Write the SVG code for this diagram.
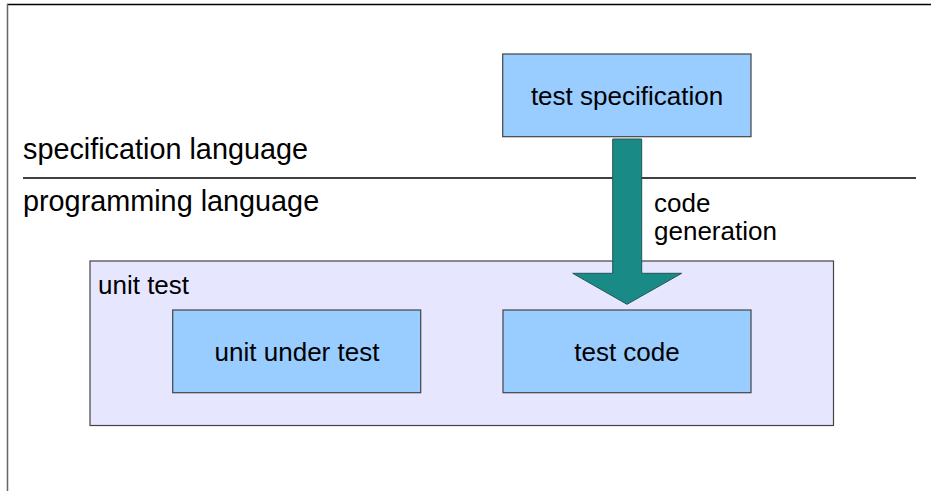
<svg xmlns="http://www.w3.org/2000/svg" width="931" height="491" viewBox="0 0 931 491">
<style>
text{font-family:"Liberation Sans",Arial,sans-serif;fill:#000}
.box{fill:#99ccff;stroke:#444;stroke-width:1.2}
.lbl{font-size:26px;text-anchor:middle}
.big{font-size:28.8px}
</style>
<rect width="931" height="491" fill="#fff"/>
<line x1="7" y1="4.5" x2="931" y2="4.5" stroke="#000" stroke-width="1.5"/>
<line x1="7.5" y1="4" x2="7.5" y2="491" stroke="#666" stroke-width="1.5"/>
<line x1="23" y1="178" x2="916" y2="178" stroke="#000" stroke-width="1.5"/>
<text class="big" x="23" y="159">specification language</text>
<text class="big" x="23" y="211">programming language</text>
<g id="unit-test">
<rect x="90" y="261" width="743.5" height="164.5" fill="#e6e6ff" stroke="#444" stroke-width="1.2"/>
<text x="98" y="294" font-size="26">unit test</text>
</g>
<g id="test-specification">
<rect class="box" x="502.7" y="54" width="248.3" height="82.7"/>
<text class="lbl" x="627" y="105">test specification</text>
</g>
<g id="unit-under-test">
<rect class="box" x="172.7" y="310" width="248" height="82.7"/>
<text class="lbl" x="297" y="360.5">unit under test</text>
</g>
<g id="test-code">
<rect class="box" x="503" y="310" width="248" height="82.7"/>
<text class="lbl" x="627" y="360.5">test code</text>
</g>
<g id="connectors">
<path d="M612.7 139 H641.7 V273.3 H681.7 L627 304.3 L572.7 273.3 H612.7 Z" fill="#1a8a87" stroke="#225555" stroke-width="1"/>
<text x="654" y="212" font-size="26">code</text>
<text x="654" y="240" font-size="26">generation</text>
</g>
</svg>
